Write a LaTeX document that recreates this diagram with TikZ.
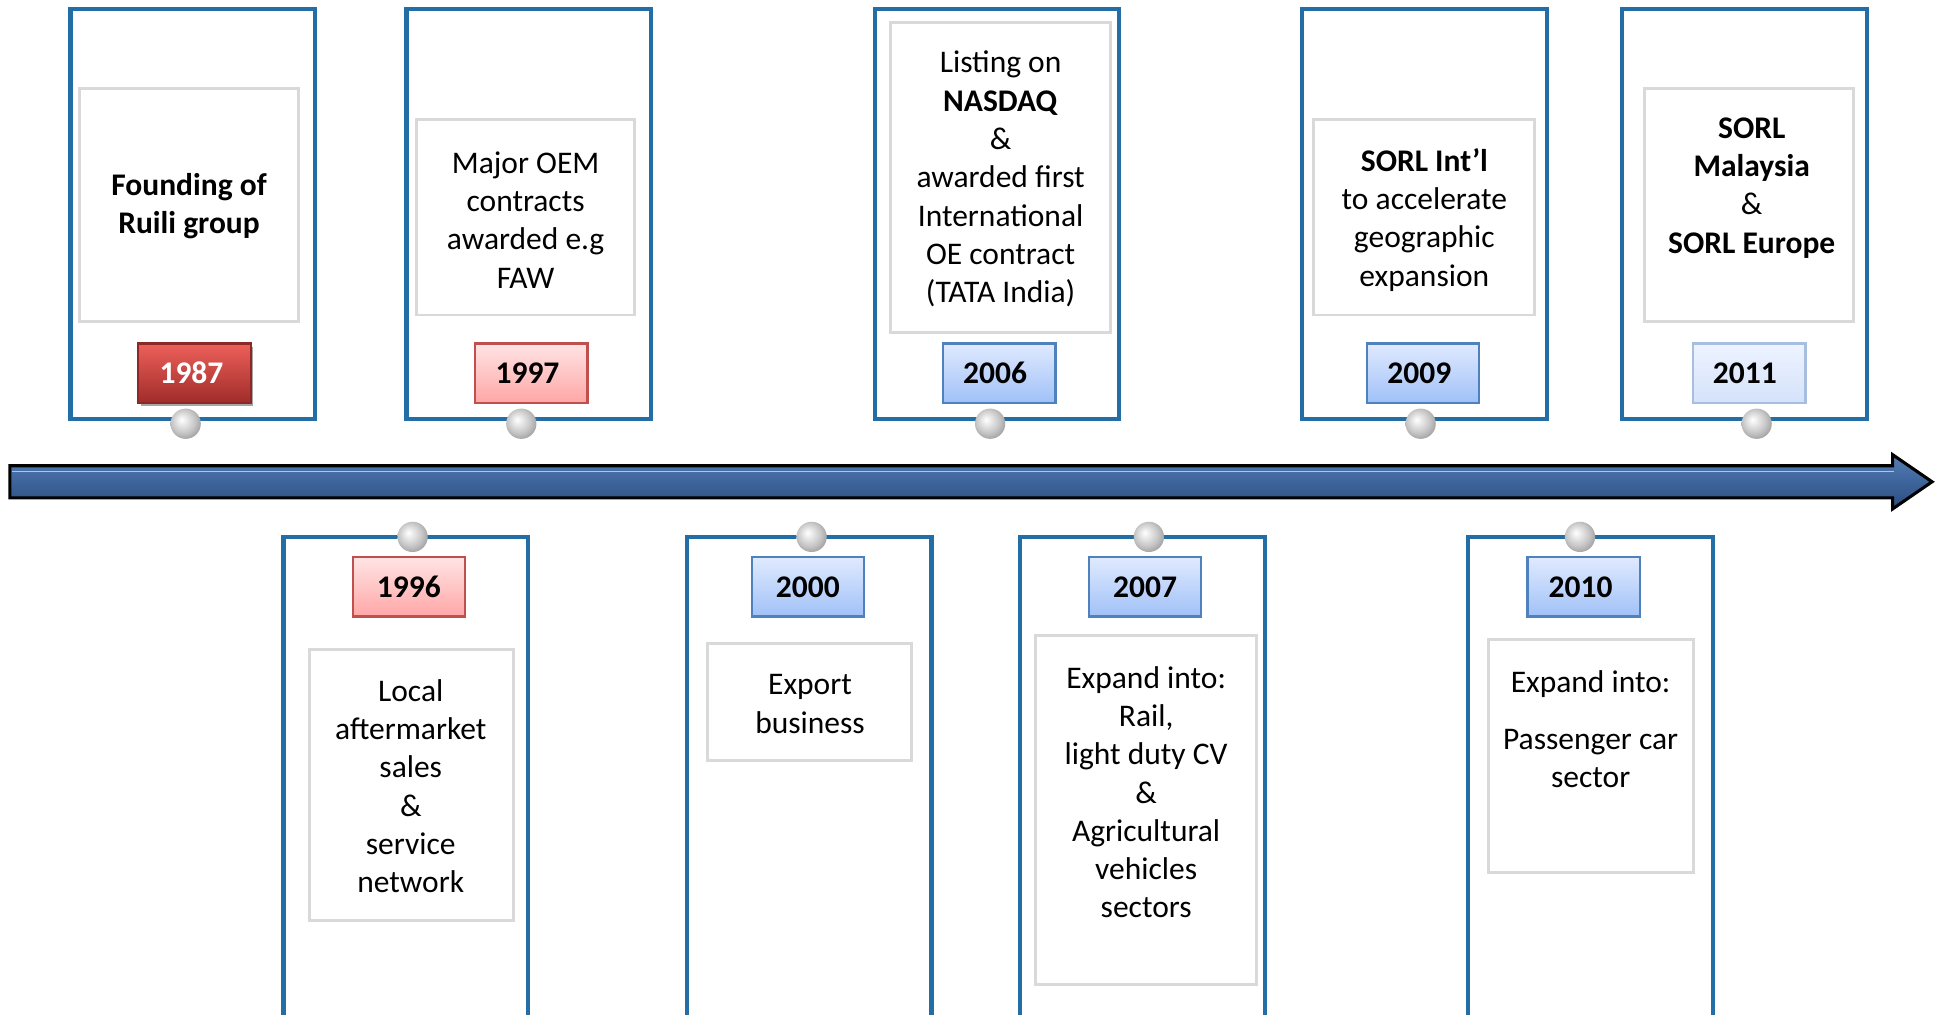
\documentclass[tikz,border=0pt]{standalone}
\usepackage{fontspec}
\setmainfont{Carlito}
\usetikzlibrary{shadows}
\definecolor{boxblue}{RGB}{36,110,168}
\definecolor{innergray}{RGB}{217,217,217}
\definecolor{tbborder}{RGB}{79,129,189}
\definecolor{tbtop}{RGB}{224,234,255}
\definecolor{tbbot}{RGB}{160,193,247}
\definecolor{tpborder}{RGB}{192,80,77}
\definecolor{tptop}{RGB}{255,228,228}
\definecolor{tpbot}{RGB}{255,166,166}
\definecolor{trborder}{RGB}{140,40,38}
\definecolor{trtop}{RGB}{238,96,90}
\definecolor{trbot}{RGB}{160,44,42}
\definecolor{tlborder}{RGB}{167,190,222}
\definecolor{tltop}{RGB}{238,243,255}
\definecolor{tlbot}{RGB}{212,226,250}
\definecolor{arrtop}{RGB}{84,126,182}
\definecolor{arrbot}{RGB}{40,76,128}
\definecolor{pinlight}{RGB}{238,238,238}
\definecolor{pingray}{RGB}{196,196,196}
\definecolor{pindark}{RGB}{150,150,150}
\pgfdeclareradialshading{pinball}{\pgfpoint{-7bp}{7bp}}{color(0bp)=(white); color(6bp)=(pinlight); color(20bp)=(pingray); color(32bp)=(pindark); color(50bp)=(pindark)}
\begin{document}
\begin{tikzpicture}[x=1pt,y=-1pt,
  outerbox/.style={draw=boxblue, line width=3.4pt, minimum width=198pt, inner sep=0pt, fill=white},
  innerbox/.style={draw=innergray, line width=2.4pt, inner sep=0pt},
  evtext/.style={align=center, font=\fontsize{25.5}{31}\selectfont, inner sep=0pt},
  yeartag/.style={line width=1.8pt, minimum width=91pt, minimum height=48pt, inner sep=0pt, font=\fontsize{25.5}{31}\selectfont\bfseries},
  bluetag/.style={yeartag, draw=tbborder, top color=tbtop, bottom color=tbbot},
  pinktag/.style={yeartag, draw=tpborder, top color=tptop, bottom color=tpbot},
  redtag/.style={yeartag, draw=trborder, top color=trtop, bottom color=trbot, text=white,
     drop shadow={shadow xshift=2pt, shadow yshift=-3pt, opacity=0.35, fill=black}},
  paletag/.style={yeartag, draw=tlborder, top color=tltop, bottom color=tlbot},
  pin/.style={circle, minimum size=24.5pt, inner sep=0pt, shade, shading=pinball}
]
\useasboundingbox (0,0) rectangle (1568,821.6);
\clip (0,0) rectangle (1568,821.6);

% outer boxes (top)
\node[outerbox, minimum height=332pt] (o1987) at (156,173) {};
\node[outerbox, minimum height=332pt] (o1997) at (428,173) {};
\node[outerbox, minimum height=332pt] (o2006) at (807,173) {};
\node[outerbox, minimum height=332pt] (o2009) at (1153,173) {};
\node[outerbox, minimum height=332pt] (o2011) at (1412,173) {};
% outer boxes (bottom)
\node[outerbox, minimum height=420pt] (o1996) at (328.5,644.4) {};
\node[outerbox, minimum height=420pt] (o2000) at (655,644.4) {};
\node[outerbox, minimum height=420pt] (o2007) at (925,644.4) {};
\node[outerbox, minimum height=420pt] (o2010) at (1287.5,644.4) {};

% inner boxes
\node[innerbox, minimum width=178pt, minimum height=189pt] (i1987) at (153,166) {};
\node[innerbox, minimum width=177pt, minimum height=158pt] (i1997) at (425.5,176) {};
\node[innerbox, minimum width=178pt, minimum height=251pt] (i2006) at (810,144) {};
\node[innerbox, minimum width=179pt, minimum height=158pt] (i2009) at (1152.5,176) {};
\node[innerbox, minimum width=169pt, minimum height=189pt] (i2011) at (1416,166) {};
\node[innerbox, minimum width=165pt, minimum height=220pt] (i1996) at (333,635.4) {};
\node[innerbox, minimum width=165pt, minimum height=94.5pt] (i2000) at (655.5,568.5) {};
\node[innerbox, minimum width=179pt, minimum height=283pt] (i2007) at (927.5,655.7) {};
\node[innerbox, minimum width=166pt, minimum height=189pt] (i2010) at (1288,612) {};

% texts
\node[evtext] (t1987) at (153,167) {\textbf{Founding of}\\\textbf{Ruili group}};
\node[evtext] (t1997) at (425.5,178) {Major OEM\\contracts\\awarded e.g\\FAW};
\node[evtext] (t2006) at (810,145) {Listing on\\\textbf{NASDAQ}\\\&\\awarded first\\International\\OE contract\\(TATA India)};
\node[evtext] (t2009) at (1153,178) {\textbf{SORL Int’l}\\to accelerate\\geographic\\expansion};
\node[evtext] (t2011) at (1418,152) {\textbf{SORL}\\\textbf{Malaysia}\\\&\\\textbf{SORL Europe}};
\node[evtext] (t1996) at (332.5,636.5) {Local\\aftermarket\\sales\\\&\\service\\network};
\node[evtext] (t2000) at (655.7,570) {Export\\business};
\node[evtext] (t2007) at (927.8,641.3) {Expand into:\\Rail,\\light duty CV\\\&\\Agricultural\\vehicles\\sectors};
\node[evtext] (t2010) at (1287.6,590.3) {Expand into:\\[15.6pt]Passenger car\\sector};

% year tags
\node[redtag] (y1987) at (157.5,302) {1987\kern5pt};
\node[pinktag] (y1997) at (430,302) {1997\kern6pt};
\node[bluetag] (y2006) at (809,302) {2006\kern7pt};
\node[bluetag] (y2009) at (1152,302) {2009\kern6pt};
\node[paletag] (y2011) at (1416,302) {2011\kern7pt};
\node[pinktag] (y1996) at (331,475) {1996};
\node[bluetag] (y2000) at (654,475) {2000};
\node[bluetag] (y2007) at (927,475) {2007};
\node[bluetag] (y2010) at (1282,475) {2010\kern5pt};

% pins
\node[pin] (p1987) at (150.3,343) {};
\node[pin] (p1997) at (422,343) {};
\node[pin] (p2006) at (801.5,343) {};
\node[pin] (p2009) at (1150,343) {};
\node[pin] (p2011) at (1422,343) {};
\node[pin] (p1996) at (334,434.6) {};
\node[pin] (p2000) at (657,434.6) {};
\node[pin] (p2007) at (930,434.6) {};
\node[pin] (p2010) at (1279,434.6) {};

% timeline arrow
\path[draw=black, line width=2.5pt, top color=arrtop, bottom color=arrbot]
  (8,377) -- (1532,377) -- (1532,368) -- (1564,390) -- (1532,412) -- (1532,403) -- (8,403) -- cycle;
\draw[white!55!arrtop, line width=1pt] (10,381.5) -- (1533,381.5);
\end{tikzpicture}
\end{document}
